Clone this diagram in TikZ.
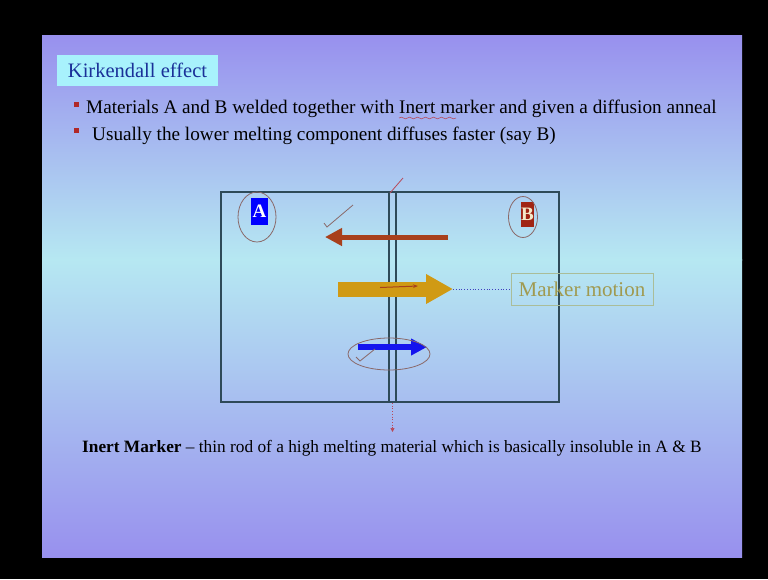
\documentclass[tikz,border=0pt]{standalone}
\usepackage{fontspec}
\setmainfont{Liberation Serif}
\usetikzlibrary{arrows.meta,decorations.pathmorphing}
\definecolor{lav}{HTML}{9890EE}
\definecolor{lcyan}{HTML}{B6E8F2}
\definecolor{titlebg}{HTML}{A8F2FC}
\definecolor{titlefg}{HTML}{1A3098}
\definecolor{boxline}{HTML}{2E4A58}
\definecolor{brownarr}{HTML}{A8401C}
\definecolor{goldarr}{HTML}{D09A14}
\definecolor{bluearr}{HTML}{1414EE}
\definecolor{penred}{HTML}{B84A5A}
\definecolor{pengray}{HTML}{8A6868}
\definecolor{olive}{HTML}{A09A50}
\definecolor{bulletred}{HTML}{B02828}
\definecolor{bbox}{HTML}{A02414}
\definecolor{cream}{HTML}{F4E8C8}
\begin{document}
\begin{tikzpicture}[x=1pt,y=-1pt,
  bodytext/.style={inner sep=0pt,anchor=base west,font=\fontsize{19.2}{22}\selectfont},
  bul/.style={fill=bulletred,minimum size=5pt,inner sep=0pt},
  pen/.style={draw=penred,line width=0.8pt},
  penoval/.style={draw=pengray,line width=0.8pt},
  labbox/.style={inner sep=0pt,font=\fontsize{19}{19}\selectfont\bfseries}]
\useasboundingbox (0,0) rectangle (768,579);
\fill[black] (0,0) rectangle (768,579);
% slide background
\shade[top color=lav,bottom color=lcyan] (42,35) rectangle (742,260);
\shade[top color=lcyan,bottom color=lav] (42,259) rectangle (742,557);
% title
\node[fill=titlebg,text=titlefg,minimum width=161pt,minimum height=31pt,inner sep=0pt,font=\fontsize{20.5}{22}\selectfont] (title) at (137.5,70.5) {Kirkendall effect};
% bullets
\node[bul] (b1) at (76,104) {};
\node[bodytext] (t1) at (86,113) {Materials A and B welded together with Inert marker and given a diffusion anneal};
\node[bul] (b2) at (76,130) {};
\node[bodytext] (t2) at (92,140) {Usually the lower melting component diffuses faster (say B)};
\draw[pen,line width=0.6pt,decorate,decoration={snake,amplitude=0.8pt,segment length=8pt}] (399,118) -- (456,118);
% diagram
\draw[boxline,line width=1.4pt] (221,192) rectangle (559,402);
\draw[boxline,line width=1.4pt] (389,192) -- (389,402);
\draw[boxline,line width=1.4pt] (396,192) -- (396,402);
\node[labbox,fill=blue,text=white,minimum width=17pt,minimum height=27pt] (A) at (259.5,211.5) {A};
\node[labbox,fill=bbox,text=cream,minimum width=13pt,minimum height=25pt] (B) at (527.5,214.5) {B};
\draw[penoval] (257,217) ellipse [x radius=19pt,y radius=25pt];
\draw[penoval] (523,217) ellipse [x radius=14.5pt,y radius=20.5pt];
% arrows
\coordinate (br1) at (448,237);
\coordinate (br2) at (325,237);
\draw[brownarr,line width=5pt,-{Triangle[length=17pt,width=17pt]}] (br1) -- (br2);
\coordinate (go1) at (338,289);
\coordinate (go2) at (453,289);
\draw[goldarr,line width=15pt,-{Triangle[length=27pt,width=28pt]}] (go1) -- (go2);
\draw[draw=brownarr,line width=1pt,-{Stealth[length=5pt]}] (380,287.5) -- (418,286);
\coordinate (bl1) at (358,347);
\coordinate (bl2) at (427,347);
\draw[bluearr,line width=6pt,-{Triangle[length=16pt,width=16pt]}] (bl1) -- (bl2);
\draw[penoval] (389,354) ellipse [x radius=41pt,y radius=16pt];
% ticks
\draw[penoval] (324,223) -- (327,227) -- (353,205);
\draw[penoval] (356,357) -- (360,361) -- (375,349);
\draw[pen] (390,193) -- (403,178);
% marker motion
\node[draw=olive!55!lcyan,line width=0.8pt,text=olive,minimum width=142pt,minimum height=32pt,inner sep=0pt,font=\fontsize{21}{22}\selectfont] (mm) at (582,289) {Marker motion};
\draw[blue!50!gray,dotted,line width=0.8pt] (go2) -- (mm.west);
% rod pointer
\coordinate (rodb) at (392.5,403);
\coordinate (rodp) at (392.5,432);
\draw[penred,dotted,line width=0.7pt,-{Triangle[length=4pt,width=4pt]}] (rodb) -- (rodp);
% bottom text
\node[inner sep=0pt,anchor=base west,font=\fontsize{17.3}{19}\selectfont] (inert) at (82,452) {\textbf{Inert Marker} -- thin rod of a high melting material which is basically insoluble in A \& B};
\end{tikzpicture}
\end{document}
